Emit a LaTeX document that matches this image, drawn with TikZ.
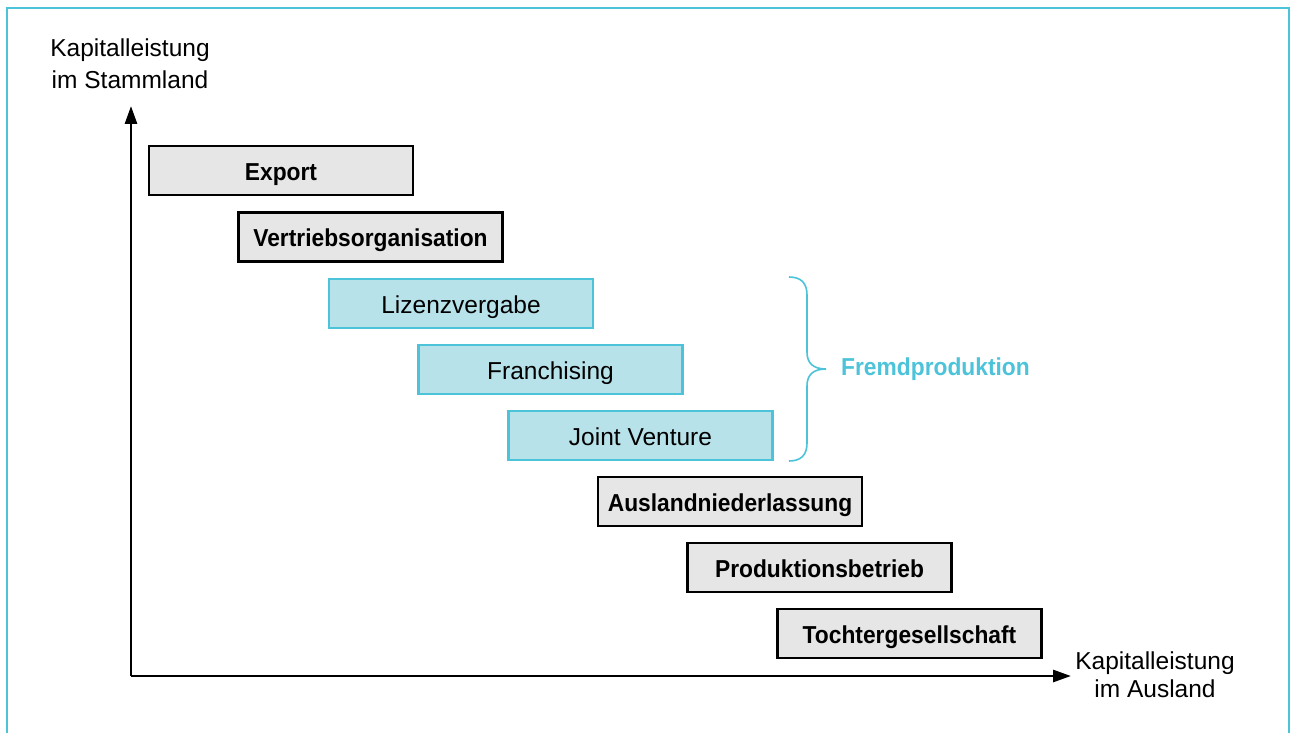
\documentclass[tikz,border=0pt]{standalone}
\usepackage{fontspec}
\setmainfont{Liberation Sans}[BoldFeatures={FakeStretch=0.93}]
\usetikzlibrary{arrows.meta}
\definecolor{framecyan}{HTML}{4CC3D9}
\definecolor{lightcyan}{HTML}{B7E2EA}
\definecolor{boxgrey}{HTML}{E6E6E6}
\begin{document}
\begin{tikzpicture}[x=1pt,y=-1pt,
  every node/.style={font=\fontsize{24.5}{30}\selectfont},
  stairbox/.style={line width=2.4pt,minimum width=264pt,minimum height=49pt,inner sep=0pt,text height=19pt,text depth=0pt},
  greybox/.style={stairbox,draw=black,fill=boxgrey,font=\fontsize{24.5}{30}\selectfont\bfseries},
  cyanbox/.style={stairbox,draw=framecyan,fill=lightcyan},
  axis/.style={line width=2.8pt,-{Triangle[length=18pt,width=12pt]}},
  axislabel/.style={align=center,inner sep=0pt}]
\useasboundingbox (0,0) rectangle (1293,733);
% outer frame
\draw[framecyan,line width=2.6pt] (7,8) rectangle (1289,760);
% axes
\coordinate (origin) at (131,676);
\coordinate (ytip) at (131,106);
\coordinate (xtip) at (1071,676);
\draw[axis] (origin) -- (ytip);
\draw[axis] (origin) -- (xtip);
\node[axislabel,font=\fontsize{24.5}{32}\selectfont] (ylab) at (130,64) {Kapitalleistung\\im Stammland};
\node[axislabel,font=\fontsize{24.5}{28}\selectfont] (xlab) at (1155,675) {Kapitalleistung\\im Ausland};
% staircase of entry forms
\node[greybox] (export) at (281,170.5) {Export};
\node[greybox] (vertrieb) at (370.5,237) {Vertriebsorganisation};
\node[cyanbox] (lizenz) at (461,303.5) {Lizenzvergabe};
\node[cyanbox] (franch) at (550.5,369.5) {Franchising};
\node[cyanbox] (joint) at (640.5,435.5) {Joint Venture};
\node[greybox] (ausland) at (730,501.5) {Auslandniederlassung};
\node[greybox] (prod) at (819.5,567.5) {Produktionsbetrieb};
\node[greybox] (tochter) at (909.5,633.5) {Tochtergesellschaft};
% brace over the third-party forms
\draw[framecyan,line width=1.6pt]
  (789,277) .. controls (801,277) and (807,283) .. (807,295)
  -- (807,352) .. controls (807,363) and (813,369) .. (826,369)
  .. controls (813,369) and (807,375) .. (807,386)
  -- (807,443) .. controls (807,455) and (801,461) .. (789,461);
\node[anchor=west,inner sep=0pt,text=framecyan,font=\fontsize{24.5}{30}\selectfont\bfseries] (fremd) at (841,369) {Fremdproduktion};
\end{tikzpicture}
\end{document}
